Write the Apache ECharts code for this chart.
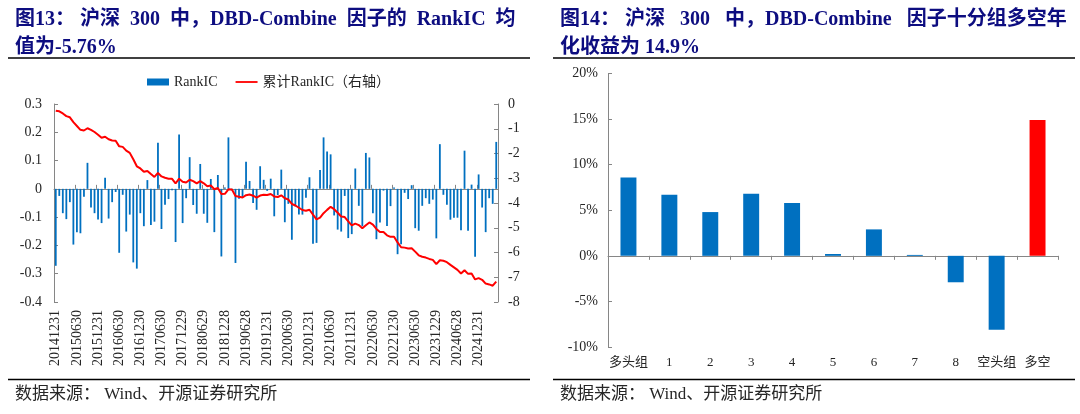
<!DOCTYPE html>
<html>
<head>
<meta charset="utf-8">
<script src="https://cdn.jsdelivr.net/npm/echarts@6/dist/echarts.min.js"></script>
<style>
  html, body { margin: 0; padding: 0; background: #fff; }
  #chart { width: 1080px; height: 414px; }
</style>
</head>
<body>
<div id="chart"></div>
<script>
// month-end dates, 2014-12 .. 2025-05
const dates = [
  '20141231',
  '20150130','20150227','20150331','20150430','20150529','20150630','20150731','20150831','20150930','20151030','20151130','20151231',
  '20160129','20160229','20160331','20160429','20160531','20160630','20160729','20160831','20160930','20161031','20161130','20161230',
  '20170126','20170228','20170331','20170428','20170531','20170630','20170731','20170831','20170929','20171031','20171130','20171229',
  '20180131','20180228','20180330','20180427','20180531','20180629','20180731','20180831','20180928','20181031','20181130','20181228',
  '20190131','20190228','20190329','20190430','20190531','20190628','20190731','20190830','20190930','20191031','20191129','20191231',
  '20200123','20200228','20200331','20200430','20200529','20200630','20200731','20200831','20200930','20201030','20201130','20201231',
  '20210129','20210226','20210331','20210430','20210531','20210630','20210730','20210831','20210930','20211029','20211130','20211231',
  '20220128','20220228','20220331','20220429','20220531','20220630','20220729','20220831','20220930','20221031','20221130','20221230',
  '20230131','20230228','20230331','20230428','20230531','20230630','20230731','20230831','20230928','20231031','20231130','20231229',
  '20240131','20240229','20240329','20240430','20240531','20240628','20240731','20240830','20240930','20241031','20241129','20241231',
  '20250127','20250228','20250331','20250430','20250530'
];

const rankIC = [
  -0.272, -0.025, -0.086, -0.107, -0.047, -0.197, -0.153, -0.157, -0.028, 0.092,
  -0.066, -0.086, -0.108, -0.121, 0.039, -0.105, -0.047, -0.011, -0.226, -0.021,
  -0.151, -0.091, -0.260, -0.282, -0.086, -0.132, 0.031, -0.128, -0.116, 0.163,
  -0.142, -0.056, -0.036, -0.005, -0.188, 0.192, -0.121, -0.033, 0.112, -0.057,
  -0.088, 0.088, -0.088, -0.120, 0.035, -0.153, 0.049, -0.239, 0.005, 0.182,
  -0.005, -0.262, -0.035, -0.030, 0.096, 0.028, -0.050, -0.074, 0.080, 0.032,
  -0.007, 0.036, -0.097, -0.022, 0.068, -0.118, -0.053, -0.180, -0.062, -0.091,
  -0.091, -0.031, 0.041, -0.194, -0.191, 0.067, 0.182, 0.132, 0.122, -0.094,
  -0.144, -0.151, -0.025, -0.174, -0.160, 0.072, -0.060, -0.132, 0.127, 0.111,
  -0.086, -0.178, -0.119, -0.006, -0.131, -0.061, 0.005, -0.231, -0.196, -0.014,
  -0.036, 0.013, -0.139, -0.148, -0.060, -0.033, -0.053, -0.038, -0.175, 0.158,
  -0.021, -0.056, -0.109, -0.102, -0.102, -0.146, 0.135, -0.148, 0.015, -0.240,
  0.051, -0.066, -0.153, -0.033, -0.053, 0.166
];

const cumRankIC = [
  -0.272, -0.297, -0.383, -0.490, -0.537, -0.734, -0.887, -1.044, -1.072, -0.980,
  -1.046, -1.132, -1.240, -1.361, -1.322, -1.427, -1.474, -1.485, -1.711, -1.732,
  -1.883, -1.974, -2.234, -2.516, -2.602, -2.734, -2.703, -2.831, -2.947, -2.784,
  -2.926, -2.982, -3.018, -3.023, -3.211, -3.019, -3.140, -3.173, -3.061, -3.118,
  -3.206, -3.118, -3.206, -3.326, -3.291, -3.444, -3.395, -3.634, -3.629, -3.447,
  -3.452, -3.714, -3.749, -3.779, -3.683, -3.655, -3.705, -3.779, -3.699, -3.667,
  -3.674, -3.638, -3.735, -3.757, -3.689, -3.807, -3.860, -4.040, -4.102, -4.193,
  -4.284, -4.315, -4.274, -4.468, -4.659, -4.592, -4.410, -4.278, -4.156, -4.250,
  -4.394, -4.545, -4.570, -4.744, -4.904, -4.832, -4.892, -5.024, -4.897, -4.786,
  -4.872, -5.050, -5.169, -5.175, -5.306, -5.367, -5.362, -5.593, -5.789, -5.803,
  -5.839, -5.826, -5.965, -6.113, -6.173, -6.206, -6.259, -6.297, -6.472, -6.314,
  -6.335, -6.391, -6.500, -6.602, -6.704, -6.850, -6.715, -6.863, -6.848, -7.088,
  -7.037, -7.103, -7.256, -7.289, -7.342, -7.176
];

const groupNames = ['多头组', '1', '2', '3', '4', '5', '6', '7', '8', '空头组', '多空'];
const groupReturns = [8.6, 6.7, 4.8, 6.8, 5.8, 0.2, 2.9, 0.1, -2.9, -8.1, 14.9];

const FONT = "'Liberation Serif', 'Noto Sans CJK SC', serif";
const AXIS_GREY = '#868686';
const TEXT = '#262626';
const NAVY = '#0d0d80';

const chart = echarts.init(document.getElementById('chart'), null, { renderer: 'canvas' });

function valueAxisBase() {
  return {
    type: 'value',
    splitLine: { show: false },
    axisLine: { show: true, lineStyle: { color: AXIS_GREY, width: 1 } },
    axisTick: { show: true, inside: true, length: 4, lineStyle: { color: AXIS_GREY } },
    axisLabel: { fontFamily: FONT, fontSize: 14, color: TEXT }
  };
}

const titleStyle = { fontFamily: FONT, fontSize: 20, fontWeight: 'bold', color: NAVY, lineHeight: 28 };
const footStyle = { fontFamily: FONT, fontSize: 17, fontWeight: 'normal', color: TEXT };

chart.setOption({
  animation: false,
  title: [
    {
      text: '图13： 沪深  300  中，DBD-Combine  因子的  RankIC  均\n值为-5.76%',
      left: 10, top: 1, textStyle: titleStyle
    },
    {
      text: '图14： 沪深   300   中，DBD-Combine   因子十分组多空年\n化收益为 14.9%',
      left: 555, top: 1, textStyle: titleStyle
    },
    { text: '数据来源： Wind、开源证券研究所', left: 10, top: 381, textStyle: footStyle },
    { text: '数据来源： Wind、开源证券研究所', left: 555, top: 381, textStyle: footStyle }
  ],
  graphic: [
    { type: 'line', shape: { x1: 8, y1: 58, x2: 530, y2: 58 }, style: { stroke: '#000', lineWidth: 1.5 } },
    { type: 'line', shape: { x1: 553, y1: 58, x2: 1075, y2: 58 }, style: { stroke: '#000', lineWidth: 1.5 } },
    { type: 'line', shape: { x1: 8, y1: 379.5, x2: 530, y2: 379.5 }, style: { stroke: '#000', lineWidth: 1.5 } },
    { type: 'line', shape: { x1: 553, y1: 379.5, x2: 1075, y2: 379.5 }, style: { stroke: '#000', lineWidth: 1.5 } }
  ],
  legend: {
    left: 142, top: 70,
    itemWidth: 22, itemHeight: 7, itemGap: 18,
    textStyle: { fontFamily: FONT, fontSize: 14, color: TEXT },
    data: [
      { name: 'RankIC', icon: 'rect' },
      { name: '累计RankIC（右轴）', icon: 'path://M0,0 L24,0 L24,2 L0,2 Z' }
    ]
  },
  grid: [
    { left: 54, top: 104, width: 444, height: 198 },
    { left: 608, top: 73.5, width: 450, height: 273.5 }
  ],
  xAxis: [
    {
      // date labels at the bottom of the left chart
      gridIndex: 0, type: 'category', data: dates, position: 'bottom',
      axisLine: { show: false, onZero: false },
      axisTick: { show: false },
      axisLabel: { interval: 5, rotate: 90, margin: 8, fontFamily: FONT, fontSize: 14, color: TEXT }
    },
    {
      // zero line of the left chart
      gridIndex: 0, type: 'category', data: dates, position: 'top',
      axisLine: { show: true, onZero: true, onZeroAxisIndex: 0, lineStyle: { color: AXIS_GREY, width: 1 } },
      axisTick: { show: true, interval: 5, length: 4, lineStyle: { color: AXIS_GREY } },
      axisLabel: { show: false }
    },
    {
      gridIndex: 1, type: 'category', data: groupNames, position: 'bottom',
      axisLine: { show: false, onZero: false },
      axisTick: { show: false },
      axisLabel: { interval: 0, margin: 9, fontFamily: FONT, fontSize: 13, color: TEXT }
    },
    {
      gridIndex: 1, type: 'category', data: groupNames, position: 'top',
      axisLine: { show: true, onZero: true, onZeroAxisIndex: 2, lineStyle: { color: AXIS_GREY, width: 1 } },
      axisTick: { show: true, inside: true, interval: 0, length: 4, lineStyle: { color: AXIS_GREY } },
      axisLabel: { show: false }
    }
  ],
  yAxis: [
    Object.assign(valueAxisBase(), {
      gridIndex: 0, min: -0.4, max: 0.3, interval: 0.1,
      axisLabel: { fontFamily: FONT, fontSize: 14, color: TEXT, margin: 12,
        formatter: v => String(Math.round(v * 10) / 10) }
    }),
    Object.assign(valueAxisBase(), {
      gridIndex: 0, position: 'right', min: -8, max: 0, interval: 1,
      axisLabel: { fontFamily: FONT, fontSize: 14, color: TEXT, margin: 10 }
    }),
    Object.assign(valueAxisBase(), {
      gridIndex: 1, min: -10, max: 20, interval: 5,
      axisLabel: { fontFamily: FONT, fontSize: 14, color: TEXT, margin: 10, formatter: '{value}%' }
    })
  ],
  series: [
    {
      name: 'RankIC', type: 'bar', xAxisIndex: 0, yAxisIndex: 0,
      data: rankIC, barWidth: 1.8,
      itemStyle: { color: '#0070C0' }
    },
    {
      name: '累计RankIC（右轴）', type: 'line', xAxisIndex: 0, yAxisIndex: 1,
      data: cumRankIC, symbol: 'none',
      lineStyle: { color: '#FF0000', width: 2 },
      itemStyle: { color: '#FF0000' }
    },
    {
      name: '十分组', type: 'bar', xAxisIndex: 2, yAxisIndex: 2,
      data: groupReturns, barWidth: '39%',
      itemStyle: {
        color: p => (p.dataIndex === groupNames.length - 1 ? '#FF0000' : '#0070C0')
      }
    }
  ]
});
</script>
</body>
</html>
